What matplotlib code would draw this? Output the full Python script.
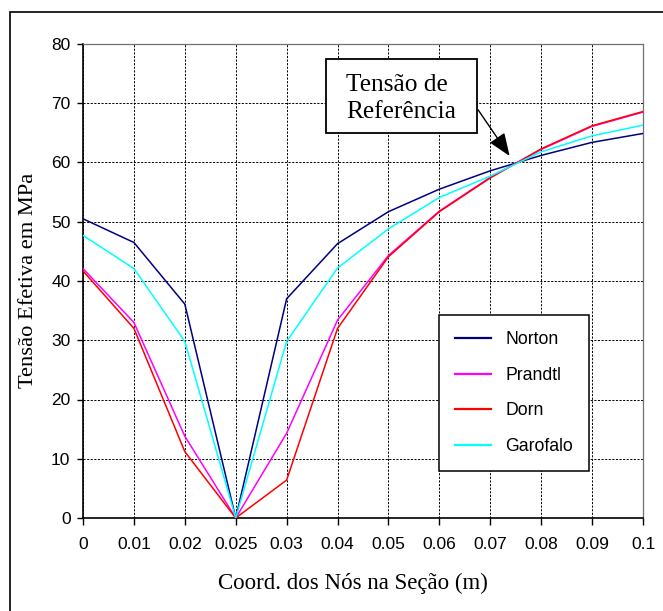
import matplotlib as mpl
mpl.use('Agg')
import matplotlib.pyplot as plt
from matplotlib.patches import Rectangle

# categorias do eixo x (coordenadas dos nós) e tensões
coords = ['0', '0.01', '0.02', '0.025', '0.03', '0.04', '0.05',
          '0.06', '0.07', '0.08', '0.09', '0.1']
norton = [50.5, 46.5, 36.1, 0.0, 37.0, 46.3, 51.7, 55.5, 58.6, 61.2, 63.4, 64.9]
prandtl = [42.1, 33.0, 13.8, 0.0, 14.3, 33.4, 44.3, 51.8, 57.5, 62.2, 66.1, 68.5]
dorn = [41.7, 32.0, 11.2, 0.0, 6.4, 32.0, 44.1, 51.7, 57.4, 62.3, 66.2, 68.6]
garofalo = [47.7, 42.1, 29.8, 0.0, 29.8, 42.2, 48.8, 54.1, 57.7, 61.8, 64.5, 66.3]
yticks = [0, 10, 20, 30, 40, 50, 60, 70, 80]

series = [
    ('Norton', norton, '#000080'),
    ('Prandtl', prandtl, '#FF00FF'),
    ('Dorn', dorn, '#FF0000'),
    ('Garofalo', garofalo, '#00FFFF'),
]

sans = 'Liberation Sans'
serif = 'Liberation Serif'

W, H = 663, 611
fig = plt.figure(figsize=(W / 100, H / 100), dpi=100)
ax = fig.add_axes([83 / W, 1 - 518 / H, 560 / W, 474 / H])

xs = range(len(coords))
for name, vals, color in series:
    ax.plot(xs, vals, color=color, lw=1.1, label=name, zorder=3)

ax.set_xlim(0, len(coords) - 1)
ax.set_ylim(0, 80)
ax.set_xticks(list(xs))
ax.set_xticklabels(coords, fontfamily=sans, fontsize=12.5)
ax.set_yticks(yticks)
ax.set_yticklabels([str(v) for v in yticks], fontfamily=sans, fontsize=12.5)
ax.tick_params(axis='x', direction='out', length=5, width=1, pad=9)
ax.tick_params(axis='y', direction='out', length=4, width=1, pad=5)

ax.grid(True, color='black', lw=0.7, linestyle=(0, (2.2, 1.5)))
ax.set_axisbelow(True)
for side in ('left', 'bottom'):
    ax.spines[side].set_linewidth(1.2)
    ax.spines[side].set_color('black')
for side in ('top', 'right'):
    ax.spines[side].set_linewidth(0.9)
    ax.spines[side].set_color('#707070')

leg = ax.legend(loc='upper left', bbox_to_anchor=((439 - 83) / 560, (518 - 315) / 474),
                borderaxespad=0, fancybox=False, framealpha=1, edgecolor='black',
                prop={'family': sans, 'size': 12.7}, handlelength=2.0,
                handletextpad=0.85, labelspacing=1.05, borderpad=0.92)
leg.get_frame().set_linewidth(1.1)
for line in leg.get_lines():
    line.set_linewidth(1.6)

# caixa "Tensão de Referência" com a seta
ax.add_patch(Rectangle((4.77, 65.0), 2.97, 12.5, facecolor='white',
                       edgecolor='black', lw=1.3, zorder=5, clip_on=False))
ax.text(5.17, 70.8, 'Tensão de\nReferência', fontfamily=serif, fontsize=18.3,
        ha='left', va='center', multialignment='left', linespacing=1.3, zorder=6)
ax.annotate('', xy=(8.38, 61.1), xytext=(7.76, 68.9),
            arrowprops=dict(arrowstyle='-|>,head_length=1.4,head_width=0.55',
                            color='black', lw=1.0, shrinkA=0, shrinkB=0), zorder=6)

fig.text(353 / W, 1 - 583 / H, 'Coord. dos Nós na Seção (m)', fontfamily=serif,
         fontsize=16.5, ha='center', va='center')
fig.text(29 / W, 1 - 280 / H, 'Tensão Efetiva em MPa', fontfamily=serif,
         fontsize=16.2, ha='center', va='center', rotation=90)

# moldura externa (só aparecem as bordas esquerda e superior)
fig.add_artist(Rectangle((10 / W, -0.1), 1.0, 1 - 12 / H + 0.1, transform=fig.transFigure,
                         fill=False, edgecolor='black', lw=1.2))

fig.savefig('out.png', dpi=100)
